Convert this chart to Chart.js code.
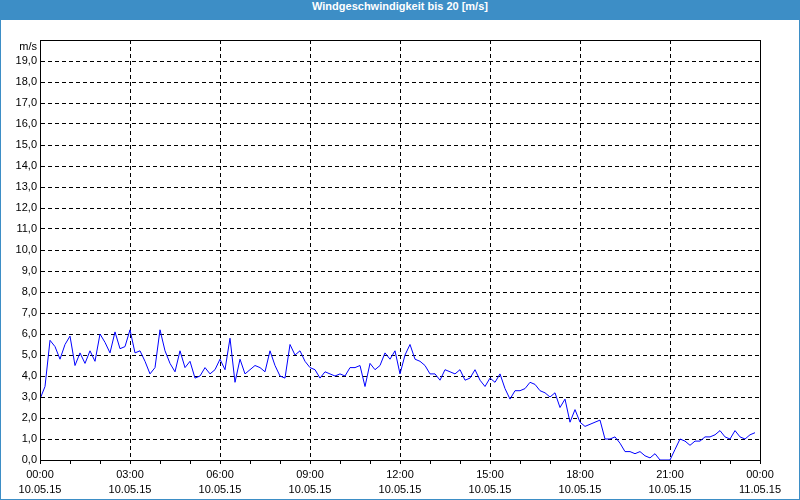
<!DOCTYPE html>
<html>
<head>
<meta charset="utf-8">
<script src="https://cdn.jsdelivr.net/npm/chart.js@4"></script>
<style>
	body { margin: 0; background: #fff; }
	#box { position: absolute; left: 0; top: 0; width: 800px; height: 500px; }
	#title {
		position: absolute; left: 0; top: 0; width: 800px; height: 20px;
		background: #3d8ec6; color: #fff; text-align: center; line-height: 20px;
		font: bold 11px 'Liberation Sans', sans-serif;
	}
	#frame {
		position: absolute; left: 0; top: 0; width: 800px; height: 500px;
		box-sizing: border-box; border: 1px solid #3d8ec6; pointer-events: none;
	}
</style>
</head>
<body>
<div id="box"><canvas id="wind"></canvas></div>
<div id="title">Windgeschwindigkeit bis 20 [m/s]</div>
<div id="frame"></div>
<script>
// one value every 10 minutes, 10.05.15 00:00 - 23:50
const stepMinutes = 10;
const speeds = [
	2.9, 3.5, 5.7, 5.4, 4.8, 5.5, 5.9, 4.5, 5.1, 4.6, 5.2, 4.7,
	6.0, 5.6, 5.1, 6.1, 5.3, 5.4, 6.2, 5.1, 5.2, 4.7, 4.1, 4.4,
	6.2, 5.2, 4.6, 4.2, 5.2, 4.4, 4.7, 3.9, 4.0, 4.4, 4.1, 4.3,
	4.8, 4.3, 5.8, 3.7, 4.8, 4.1, 4.3, 4.5, 4.4, 4.2, 5.2, 4.5,
	4.0, 3.9, 5.5, 5.0, 5.2, 4.7, 4.4, 4.3, 3.9, 4.2, 4.1, 4.0,
	4.1, 4.0, 4.4, 4.4, 4.5, 3.5, 4.6, 4.3, 4.5, 5.1, 4.8, 5.2,
	4.1, 5.0, 5.5, 4.8, 4.7, 4.5, 4.1, 4.1, 3.8, 4.3, 4.2, 4.1,
	4.3, 3.8, 3.9, 4.3, 3.8, 3.5, 3.9, 3.7, 4.1, 3.4, 2.9, 3.3,
	3.3, 3.4, 3.7, 3.6, 3.3, 3.2, 3.0, 3.2, 2.5, 2.9, 1.8, 2.4,
	1.8, 1.6, 1.7, 1.8, 1.9, 1.0, 1.0, 1.1, 0.8, 0.4, 0.4, 0.3,
	0.4, 0.2, 0.1, 0.3, 0.0, 0.0, 0.0, 0.5, 1.0, 0.9, 0.7, 0.9,
	0.9, 1.1, 1.1, 1.2, 1.4, 1.1, 1.0, 1.4, 1.1, 1.0, 1.2, 1.3,
];
const timeLabels = ['00:00', '03:00', '06:00', '09:00', '12:00', '15:00', '18:00', '21:00', '00:00'];
const dateLabels = ['10.05.15', '10.05.15', '10.05.15', '10.05.15', '10.05.15', '10.05.15', '10.05.15', '10.05.15', '11.05.15'];
const unitLabel = 'm/s';

const points = speeds.map((v, i) => ({ x: i * stepMinutes, y: v }));

// solid box around the plot area (top/right sides)
const frame = {
	id: 'frame',
	afterDraw(chart) {
		const a = chart.chartArea;
		const c = chart.ctx;
		c.save();
		c.strokeStyle = '#000';
		c.lineWidth = 1;
		c.strokeRect(a.left + 0.5, a.top + 0.5, a.right - a.left, a.bottom - a.top);
		c.restore();
	},
};

const font = { family: "'Liberation Sans', Arial, sans-serif", size: 11 };

new Chart(document.getElementById('wind').getContext('2d'), {
	type: 'line',
	data: {
		datasets: [
			{
				data: points,
				borderColor: '#0000ff',
				borderWidth: 1,
				pointRadius: 0,
				tension: 0,
				fill: false,
			},
		],
	},
	options: {
		responsive: true,
		maintainAspectRatio: false,
		animation: false,
		layout: { padding: { top: 40, right: 40, left: 0, bottom: 0 } },
		plugins: {
			legend: { display: false },
			tooltip: { enabled: false },
		},
		scales: {
			x: {
				type: 'linear',
				min: 0,
				max: 1440,
				afterFit: (s) => { s.height = 40; },
				border: { color: '#000', width: 1, dash: [4, 3] },
				grid: {
					color: (ctx) => (ctx.tick && ctx.tick.value % 180 === 0 ? '#000' : 'rgba(0,0,0,0)'),
					tickColor: '#000',
					tickLength: 4,
				},
				ticks: {
					stepSize: 60,
					autoSkip: false,
					maxRotation: 0,
					padding: 3,
					color: '#000',
					font: { ...font, lineHeight: 15 / 11 },
					callback: (v) => (v % 180 === 0 ? [timeLabels[v / 180], dateLabels[v / 180]] : ''),
				},
			},
			y: {
				min: 0,
				max: 20,
				afterFit: (s) => { s.width = 40; },
				border: { color: '#000', width: 1, dash: [4, 3] },
				grid: { color: '#000', drawTicks: false },
				ticks: {
					stepSize: 1,
					autoSkip: false,
					padding: 3,
					color: '#000',
					font: { ...font, lineHeight: 1.2 },
					callback: (v) => (v === 20 ? ['', unitLabel] : v.toFixed(1).replace('.', ',')),
				},
			},
		},
	},
	plugins: [frame],
});
</script>
</body>
</html>
